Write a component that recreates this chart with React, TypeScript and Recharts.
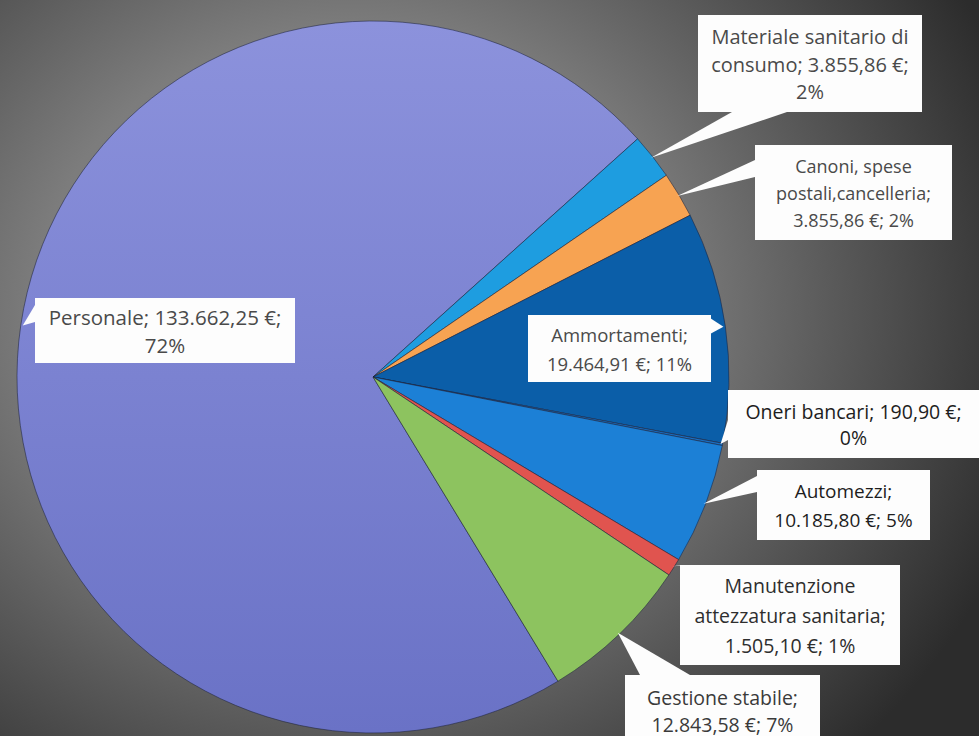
import { PieChart, Pie, Cell } from 'recharts'

// Costi per voce (€)
const CATEGORIES = [
  'Personale',
  'Materiale sanitario di consumo',
  'Canoni, spese postali,cancelleria',
  'Ammortamenti',
  'Oneri bancari',
  'Automezzi',
  'Manutenzione attezzatura sanitaria',
  'Gestione stabile',
]
const VALUES = [133662.25, 3855.86, 3855.86, 19464.91, 190.9, 10185.8, 1505.1, 12843.58]

// testo dei callout, come nel grafico originale
const LABEL_LINES = [
  ['Personale; 133.662,25 €;', '72%'],
  ['Materiale sanitario di', 'consumo; 3.855,86 €;', '2%'],
  ['Canoni, spese', 'postali,cancelleria;', '3.855,86 €; 2%'],
  ['Ammortamenti;', '19.464,91 €; 11%'],
  ['Oneri bancari; 190,90 €;', '0%'],
  ['Automezzi;', '10.185,80 €; 5%'],
  ['Manutenzione', 'attezzatura sanitaria;', '1.505,10 €; 1%'],
  ['Gestione stabile;', '12.843,58 €; 7%'],
]

const COLORS = ['url(#personaleFill)', '#1e9de0', '#f7a352', '#0b5ea8', '#1a6fc2', '#1c80d6', '#e0544f', '#8dc35f']

// posizione dei riquadri (layout, non dati)
const CALLOUTS = [
  { x: 35, y: 298, w: 260, h: 65, base: [[35, 305], [35, 322]], size: 20.5, lh: 28, color: '#4a4a4a' },
  { x: 698, y: 15, w: 224, h: 97, base: [[732, 112], [787, 112]], size: 20, lh: 27.5, color: '#4a4a4a' },
  { x: 755, y: 145, w: 197, h: 95, base: [[755, 160], [755, 177]], size: 18, lh: 27, color: '#4a4a4a' },
  { x: 528, y: 315, w: 183, h: 67, base: [[710, 318], [710, 334]], size: 18.5, lh: 29, color: '#4a4a4a' },
  { x: 728, y: 390, w: 251, h: 68, base: [[728, 420], [728, 440]], size: 19.5, lh: 26.5, color: '#1e1e1e' },
  { x: 757, y: 470, w: 173, h: 70, base: [[757, 476], [757, 492]], size: 19, lh: 29, color: '#1e1e1e' },
  { x: 680, y: 565, w: 220, h: 100, base: [[683, 565], [696, 565]], size: 19.5, lh: 30, color: '#2e2e2e' },
  { x: 625, y: 675, w: 195, h: 70, base: [[640, 675], [690, 675]], size: 19.5, lh: 27, color: '#3a3a3a' },
]

const RAD = Math.PI / 180

const data = CATEGORIES.map((name, i) => ({ name, value: VALUES[i] }))

function renderCallout(props: any) {
  const { cx, cy, midAngle, outerRadius, index } = props
  const c = CALLOUTS[index]
  const lines = LABEL_LINES[index]
  const r = outerRadius - 2
  const tx = cx + r * Math.cos(-midAngle * RAD)
  const ty = cy + r * Math.sin(-midAngle * RAD)
  const y0 = c.y + c.h / 2 - ((lines.length - 1) * c.lh) / 2
  return (
    <g key={`callout-${index}`}>
      <polygon
        points={`${c.base[0][0]},${c.base[0][1]} ${tx},${ty} ${c.base[1][0]},${c.base[1][1]}`}
        fill="#fdfdfd"
      />
      <rect x={c.x} y={c.y} width={c.w} height={c.h} fill="#fdfdfd" />
      <text
        textAnchor="middle"
        dominantBaseline="central"
        fontFamily="'Open Sans', Lato, sans-serif"
        fontSize={c.size}
        fill={c.color}
      >
        {lines.map((l, i) => (
          <tspan key={i} x={c.x + c.w / 2} y={y0 + i * c.lh}>
            {l}
          </tspan>
        ))}
      </text>
    </g>
  )
}

export default function App() {
  return (
    <div
      style={{
        position: 'absolute',
        left: 0,
        top: 0,
        width: 979,
        height: 736,
        overflow: 'hidden',
        background:
          'radial-gradient(ellipse 72% 85% at 36% 42%, #8a8b89 0%, #7c7c7c 45%, #5a5a5a 68%, #2c2c2c 100%)',
      }}
    >
      <PieChart width={979} height={736} margin={{ top: 0, right: 0, bottom: 0, left: 0 }}>
        <defs>
          <linearGradient id="personaleFill" x1="0" y1="0" x2="0" y2="1">
            <stop offset="0%" stopColor="#8c92dc" />
            <stop offset="100%" stopColor="#6a72c6" />
          </linearGradient>
        </defs>
        <Pie
          data={data}
          dataKey="value"
          nameKey="name"
          cx={373}
          cy={377}
          outerRadius={356}
          startAngle={-58.7}
          endAngle={-418.7}
          stroke="rgba(30,35,60,0.55)"
          strokeWidth={1}
          labelLine={false}
          label={renderCallout}
          isAnimationActive={false}
        >
          {data.map((entry, i) => (
            <Cell key={entry.name} fill={COLORS[i]} />
          ))}
        </Pie>
      </PieChart>
    </div>
  )
}
